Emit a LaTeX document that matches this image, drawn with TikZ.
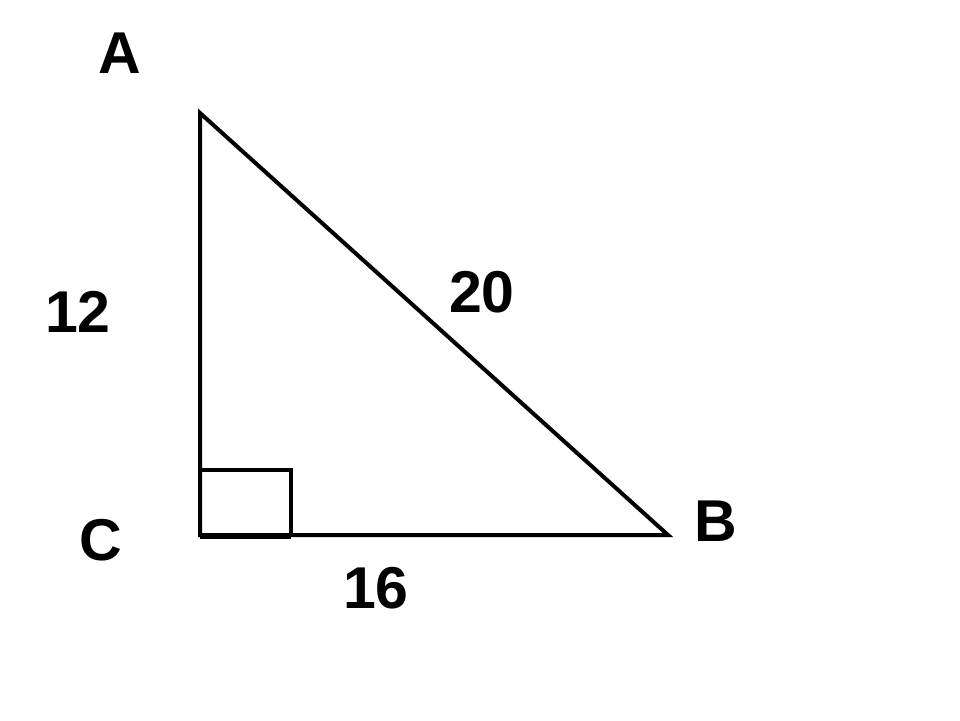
\documentclass[tikz,border=0pt]{standalone}
\usepackage{fontspec}
\setmainfont{Liberation Sans}
\usetikzlibrary{positioning}
\tikzstyle{edge} = [line width=4pt, line join=miter, black]
\tikzstyle{corner} = [line width=3.5pt, black]
\tikzstyle{vertexname} = [font=\fontsize{59}{62}\selectfont\bfseries, inner sep=0pt]
\tikzstyle{sidelen} = [font=\fontsize{59}{62}\selectfont\bfseries, inner sep=0pt]

\begin{document}
\begin{tikzpicture}[x=1pt,y=-1pt]
		\useasboundingbox (0,0) rectangle (960,720);

		% Vertices
		\coordinate (A) at (200,113);
		\coordinate (C) at (200,535);
		\coordinate (B) at (668,535);

		% Triangle and right angle
		\draw [edge] (A) -- (C) -- (B) -- cycle;
		\draw [corner] (C) rectangle ++(91,-65);
		\draw [line width=4pt] ([yshift=-2pt]C) -- ++(91,0);

		% Vertex names
		\node (nameA) [vertexname] at (120,53) {A};
		\node (nameC) [vertexname] at (101,540) {C};
		\node (nameB) [vertexname] at (716,521) {B};

		% Side lengths
		\node (lenAC) [sidelen] at (78,312) {12};
		\node (lenAB) [sidelen] at (482,292) {20};
		\node (lenCB) [sidelen] at (376,588) {16};
	\end{tikzpicture}
\end{document}
